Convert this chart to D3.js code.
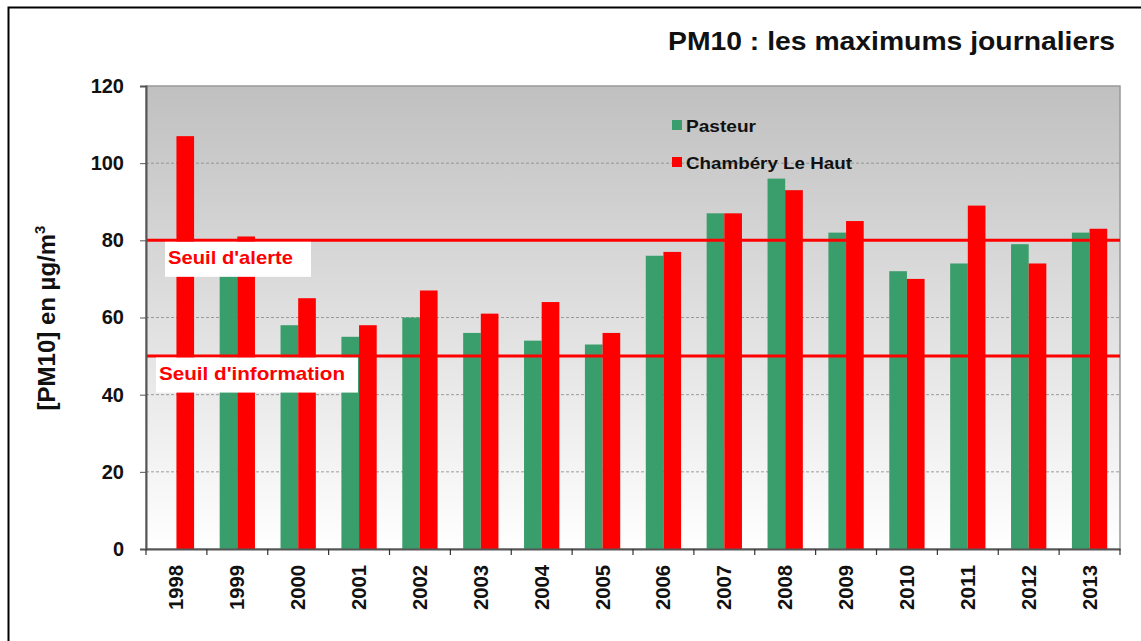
<!DOCTYPE html>
<html><head><meta charset="utf-8">
<script src="https://cdn.jsdelivr.net/npm/d3@7"></script>
<style>body{margin:0;background:#fff}svg{display:block}</style>
</head><body>
<script>
const years = ["1998","1999","2000","2001","2002","2003","2004","2005","2006","2007","2008","2009","2010","2011","2012","2013"];
const pasteur = [null,72,58,55,60,56,54,53,76,87,96,82,72,74,79,82];
const chamberyLeHaut = [107,81,65,58,67,61,64,56,77,87,93,85,70,89,74,83];
const seriesNames = ["Pasteur","Chambéry Le Haut"];
const seriesColors = ["#3a9e6c","#ff0000"];
const yTicks = [0,20,40,60,80,100,120];
const thresholds = [{v:80,label:"Seuil d'alerte"},{v:50,label:"Seuil d'information"}];
const titleText = "PM10 : les maximums journaliers";
const yTitle = "[PM10] en µg/m";

const W=1141,H=641;
const m={l:146,r:1120,t:86,b:549};
const svg=d3.select("body").append("svg").attr("width",W).attr("height",H);
const font="'Liberation Sans', Arial, sans-serif";

// frame
svg.append("path").attr("d",`M8.5,${H}V7.5H${W}`).attr("fill","none").attr("stroke","#000").attr("stroke-width",2);

const x=d3.scaleBand().domain(years).range([m.l,m.r]);
const y=d3.scaleLinear().domain([0,120]).range([m.b,m.t]);

const defs=svg.append("defs");
const g=defs.append("linearGradient").attr("id","bg").attr("x1",0).attr("y1",0).attr("x2",0).attr("y2",1);
g.append("stop").attr("offset","0%").attr("stop-color","#c0c0c0");
g.append("stop").attr("offset","100%").attr("stop-color","#ffffff");
svg.append("rect").attr("x",m.l).attr("y",m.t).attr("width",m.r-m.l).attr("height",m.b-m.t).attr("fill","url(#bg)").attr("stroke","#999").attr("stroke-width",1.5);

// grid
svg.append("g").selectAll("line").data(yTicks.filter(d=>d>0&&d<120)).join("line")
 .attr("x1",m.l).attr("x2",m.r).attr("y1",d=>y(d)).attr("y2",d=>y(d))
 .attr("stroke","#888").attr("stroke-dasharray","3,2").attr("stroke-width",0.8);

// bars
const bw=x.bandwidth()*0.29;
const sub=d3.scaleBand().domain([0,1]).range([0,2*bw]);
[pasteur,chamberyLeHaut].forEach((arr,si)=>{
  svg.append("g").selectAll("rect").data(years.map((yr,i)=>({yr,v:arr[i]})).filter(d=>d.v!=null)).join("rect")
   .attr("x",d=>x(d.yr)+x.bandwidth()/2-bw+sub(si))
   .attr("width",bw).attr("y",d=>y(d.v)).attr("height",d=>y(0)-y(d.v))
   .attr("fill",seriesColors[si]);
});

// thresholds
thresholds.forEach(t=>{
  svg.append("line").attr("x1",m.l).attr("x2",m.r).attr("y1",y(t.v)).attr("y2",y(t.v))
   .attr("stroke","#ff0000").attr("stroke-width",3);
});
const lab=[{t:thresholds[0],x:165,w:146,tx:168,tw:125},{t:thresholds[1],x:156,w:202,tx:159,tw:186}];
lab.forEach(l=>{
  const yy=y(l.t.v);
  svg.append("rect").attr("x",l.x).attr("y",yy+1.5).attr("width",l.w).attr("height",35).attr("fill","#fff");
  svg.append("text").attr("x",l.tx).attr("y",yy+24)
   .attr("font-family",font).attr("font-weight","bold").attr("font-size",19).attr("fill","#ff0000")
   .attr("textLength",l.tw).attr("lengthAdjust","spacingAndGlyphs").text(l.t.label);
});

// axes
const ya=svg.append("g").attr("transform",`translate(${m.l},0)`).call(d3.axisLeft(y).tickValues(yTicks).tickSize(6).tickPadding(16));
ya.select(".domain").attr("stroke","#555").attr("stroke-width",2);
ya.selectAll(".tick line").attr("stroke","#555");
ya.selectAll("text").attr("font-family",font).attr("font-weight","bold").attr("font-size",20).attr("fill","#111");

const xa=svg.append("g").attr("transform",`translate(0,${m.b})`).call(d3.axisBottom(x).tickSize(0).tickFormat(""));
xa.select(".domain").attr("stroke","#555").attr("stroke-width",2);
svg.append("g").selectAll("line").data(years.concat(["end"])).join("line")
 .attr("x1",(d,i)=>i<years.length?x(d):m.r).attr("x2",(d,i)=>i<years.length?x(d):m.r)
 .attr("y1",m.b).attr("y2",m.b+6).attr("stroke","#333").attr("stroke-width",1.2);
svg.append("g").selectAll("text").data(years).join("text")
 .attr("transform",d=>`translate(${x(d)+x.bandwidth()/2+7},${m.b+16}) rotate(-90)`)
 .attr("text-anchor","end").attr("font-family",font).attr("font-weight","bold").attr("font-size",20).attr("fill","#111")
 .attr("textLength",45).attr("lengthAdjust","spacingAndGlyphs").text(d=>d);

// y title
const yt=svg.append("text").attr("transform","translate(55,318) rotate(-90)").attr("text-anchor","middle")
 .attr("font-family",font).attr("font-weight","bold").attr("font-size",24).attr("fill","#111");
yt.append("tspan").text(yTitle);
yt.append("tspan").attr("dy",-10).attr("font-size",15).text("3");

// title
svg.append("text").attr("x",1115).attr("y",50).attr("text-anchor","end")
 .attr("font-family",font).attr("font-weight","bold").attr("font-size",25).attr("fill","#111")
 .attr("textLength",447).attr("lengthAdjust","spacingAndGlyphs").text(titleText);

// legend
const legW=[70,166];
seriesNames.forEach((n,i)=>{
  const yy=120+i*37;
  svg.append("rect").attr("x",672).attr("y",yy).attr("width",10).attr("height",10).attr("fill",seriesColors[i]);
  svg.append("text").attr("x",686).attr("y",yy+12).attr("font-family",font).attr("font-weight","bold")
   .attr("font-size",17).attr("fill","#111").attr("textLength",legW[i]).attr("lengthAdjust","spacingAndGlyphs").text(n);
});
</script>
</body></html>
